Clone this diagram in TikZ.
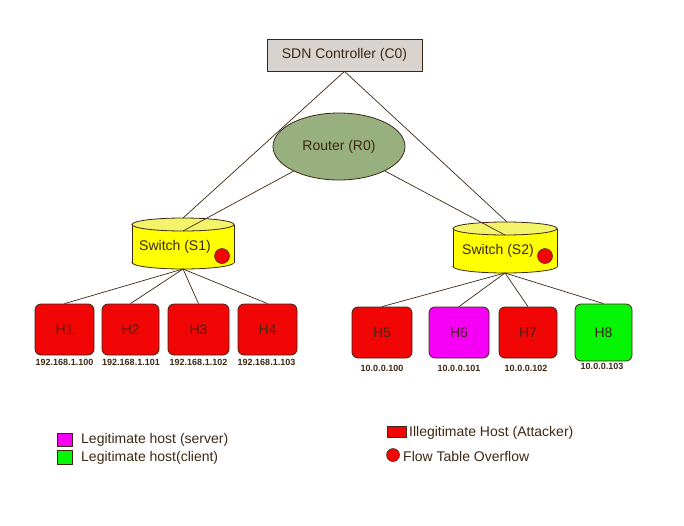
\documentclass[tikz,border=0pt]{standalone}
\usepackage{fontspec}
\setmainfont{Liberation Sans}
\usetikzlibrary{shapes.geometric}
\definecolor{ink}{HTML}{3C2814}
\definecolor{ctrlgray}{HTML}{D9D3CF}
\definecolor{routergreen}{HTML}{98B07F}
\definecolor{swyellow}{HTML}{FFFF00}
\definecolor{swtop}{HTML}{F4F46A}
\definecolor{hred}{HTML}{F20505}
\definecolor{hmag}{HTML}{F500F5}
\definecolor{hgreen}{HTML}{05F505}
\tikzset{
  wire/.style={draw=ink, line width=0.7pt},
  hostbox/.style={draw=ink, line width=0.8pt, rounded corners=6pt, minimum width=#1, inner sep=0pt, font=\fontsize{14}{16}\selectfont, text=ink},
  iplabel/.style={font=\bfseries\fontsize{9}{10}\selectfont, text=ink, inner sep=0pt},
  lbl/.style={font=\fontsize{14}{16}\selectfont, text=ink, inner sep=0pt},
  legsq/.style={draw=ink, line width=0.6pt},
}
\begin{document}
\begin{tikzpicture}[x=1pt,y=-1pt]
\useasboundingbox (0,0) rectangle (684,525);
% controller
\node[draw=ink, fill=ctrlgray, line width=0.8pt, minimum width=155pt, minimum height=32pt, inner sep=0pt, lbl] (C0) at (344.5,55) {SDN Controller (C0)};
% router
\node[ellipse, draw=ink, fill=routergreen, line width=0.8pt, minimum width=132pt, minimum height=67pt, inner sep=0pt, lbl] (R0) at (339,146.5) {Router (R0)};
% switch S1 cylinder
\fill[swyellow, draw=ink, line width=0.8pt] (183,262.5) ellipse [x radius=51, y radius=6.5];
\fill[swyellow] (132,224.5) rectangle (234,262.5);
\draw[ink, line width=0.8pt] (132,224.5) -- (132,262.5) (234,224.5) -- (234,262.5);
\filldraw[fill=swtop, draw=ink, line width=0.8pt] (183,224.5) ellipse [x radius=51, y radius=6.5];
\coordinate (s1top) at (183,218);
\coordinate (s1front) at (183,231);
\coordinate (s1bot) at (183,269);
\node[lbl] (S1) at (175,247) {Switch (S1)};
\node[circle, fill=hred, draw=ink, line width=0.5pt, minimum size=15pt, inner sep=0pt] (O1) at (222,256) {};
% switch S2 cylinder
\fill[swyellow, draw=ink, line width=0.8pt] (505,266.5) ellipse [x radius=52, y radius=6.5];
\fill[swyellow] (453,228.5) rectangle (557,266.5);
\draw[ink, line width=0.8pt] (453,228.5) -- (453,266.5) (557,228.5) -- (557,266.5);
\filldraw[fill=swtop, draw=ink, line width=0.8pt] (505,228.5) ellipse [x radius=52, y radius=6.5];
\coordinate (s2top) at (507,222);
\coordinate (s2front) at (505,235);
\coordinate (s2bot) at (505,273);
\node[lbl] (S2) at (498,251) {Switch (S2)};
\node[circle, fill=hred, draw=ink, line width=0.5pt, minimum size=15pt, inner sep=0pt] (O2) at (545,256) {};
% upper wires
\draw[wire] (C0.south) -- (s1top);
\draw[wire] (C0.south) -- (s2top);
\draw[wire] (s1front) -- (R0);
\draw[wire] (s2front) -- (R0);
% hosts
\node[hostbox=59pt, minimum height=51pt, fill=hred] (H1) at (64.5,329.5) {H1};
\node[hostbox=57pt, minimum height=51pt, fill=hred] (H2) at (130.5,329.5) {H2};
\node[hostbox=61pt, minimum height=51pt, fill=hred] (H3) at (198.5,329.5) {H3};
\node[hostbox=59pt, minimum height=51pt, fill=hred] (H4) at (267.5,329.5) {H4};
\node[hostbox=60pt, minimum height=51pt, fill=hred] (H5) at (382,332.5) {H5};
\node[hostbox=60pt, minimum height=51pt, fill=hmag] (H6) at (459,332.5) {H6};
\node[hostbox=58pt, minimum height=51pt, fill=hred] (H7) at (528,332.5) {H7};
\node[hostbox=57pt, minimum height=57pt, fill=hgreen] (H8) at (603.5,332.5) {H8};
% lower wires
\foreach \h in {H1,H2,H3,H4} \draw[wire] (s1bot) -- (\h.north);
\foreach \h in {H5,H6,H7,H8} \draw[wire] (s2bot) -- (\h.north);
% ip labels
\node[iplabel] (ip1) at (64.5,362.5) {192.168.1.100};
\node[iplabel] (ip2) at (131,362.5) {192.168.1.101};
\node[iplabel] (ip3) at (198.5,362.5) {192.168.1.102};
\node[iplabel] (ip4) at (266.5,362.5) {192.168.1.103};
\node[iplabel] (ip5) at (382,368) {10.0.0.100};
\node[iplabel] (ip6) at (459,368) {10.0.0.101};
\node[iplabel] (ip7) at (526,368) {10.0.0.102};
\node[iplabel] (ip8) at (602,366.5) {10.0.0.103};
% legend
\node[legsq, fill=hmag, minimum width=15pt, minimum height=13pt, inner sep=0pt] (Lmag) at (64.5,439.5) {};
\node[lbl, anchor=west] (Tmag) at (81,440) {Legitimate host (server)};
\node[legsq, fill=hgreen, minimum width=15pt, minimum height=14pt, inner sep=0pt] (Lgrn) at (64.5,457) {};
\node[lbl, anchor=west] (Tgrn) at (81,458) {Legitimate host(client)};
\node[legsq, fill=hred, minimum width=19pt, minimum height=11pt, inner sep=0pt] (Lred) at (396.5,431.5) {};
\node[lbl, anchor=west] (Tred) at (409,432.5) {Illegitimate Host (Attacker)};
\node[circle, fill=hred, draw=ink, line width=0.5pt, minimum size=13pt, inner sep=0pt] (Lcir) at (393,455) {};
\node[lbl, anchor=west] (Tcir) at (403,456) {Flow Table Overflow};
\end{tikzpicture}
\end{document}
